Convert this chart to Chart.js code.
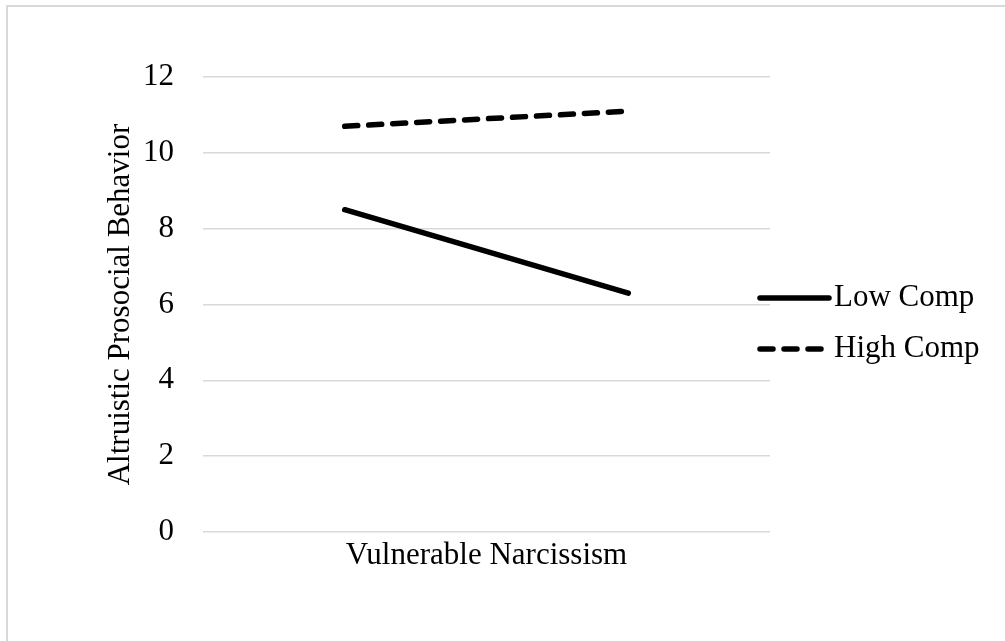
<!DOCTYPE html>
<html lang="en">
<head>
  <meta charset="UTF-8"/>
  <title>Altruistic Prosocial Behavior – Vulnerable Narcissism</title>
  <script src="https://cdn.jsdelivr.net/npm/chart.js"></script>
  <style>
    html, body { margin:0; padding:0; background:#fff; overflow:hidden; }
    .frame { position:absolute; left:6px; top:5px; width:1100px; height:700px; border:2px solid #d9d9d9; }
    .wrap { position:absolute; left:0; top:0; width:1005px; height:641px; }
  </style>
</head>
<body>
<div class="frame"></div>
<div class="wrap"><canvas id="chart" width="1005" height="641"></canvas></div>

<script>
  // data
  const categories = ['Low', 'High'];
  const lowComp  = [8.5, 6.3];
  const highComp = [10.7, 11.1];
  const seriesNames = ['Low Comp', 'High Comp'];
  const yTicks = [0, 2, 4, 6, 8, 10, 12];

  const FONT = "'Liberation Serif', 'Times New Roman', serif";

  // legend drawn by hand so it can sit where Excel put it
  const sideLegend = {
    id: 'sideLegend',
    afterDraw(chart) {
      const ctx = chart.ctx;
      const rows = [298, 349];
      chart.data.datasets.forEach((ds, i) => {
        const y = rows[i];
        ctx.save();
        ctx.strokeStyle = ds.borderColor;
        ctx.lineWidth = ds.borderWidth;
        ctx.lineCap = 'round';
        ctx.setLineDash(ds.borderDash || []);
        ctx.beginPath();
        ctx.moveTo(760, y);
        ctx.lineTo(829, y);
        ctx.stroke();
        ctx.setLineDash([]);
        ctx.fillStyle = '#000';
        ctx.font = '31px ' + FONT;
        ctx.textBaseline = 'middle';
        ctx.textAlign = 'left';
        ctx.fillText(ds.label, 834, y);
        ctx.restore();
      });
    }
  };

  new Chart(document.getElementById('chart'), {
    type: 'line',
    data: {
      labels: categories,
      datasets: [
        { label: seriesNames[0], data: lowComp, borderColor: '#000', borderWidth: 5.5,
          borderCapStyle: 'round', pointRadius: 0, tension: 0 },
        { label: seriesNames[1], data: highComp, borderColor: '#000', borderWidth: 5.5,
          borderDash: [13, 11], borderCapStyle: 'round', pointRadius: 0, tension: 0 }
      ]
    },
    options: {
      responsive: false,
      animation: false,
      layout: { padding: { top: 77, right: 235, bottom: 67, left: 0 } },
      plugins: { legend: { display: false }, tooltip: { enabled: false } },
      scales: {
        x: {
          offset: true,
          grid: { display: false, drawTicks: false },
          border: { display: false },
          ticks: { display: false },
          title: { display: true, text: 'Vulnerable Narcissism', color: '#000',
                   font: { family: FONT, size: 31 }, padding: 0 },
          afterFit: s => { s.height = 42; }
        },
        y: {
          min: 0, max: 12,
          afterBuildTicks: s => { s.ticks = yTicks.map(v => ({ value: v })); },
          grid: { color: '#d9d9d9', lineWidth: 1.5, drawTicks: false },
          border: { display: false },
          ticks: { color: '#000', padding: 29, font: { family: FONT, size: 31 } },
          title: { display: true, text: 'Altruistic Prosocial Behavior', color: '#000',
                   font: { family: FONT, size: 31 }, padding: { top: 102, bottom: 0 } },
          afterFit: s => { s.width = 203; }
        }
      }
    },
    plugins: [sideLegend]
  });
</script>
</body>
</html>
